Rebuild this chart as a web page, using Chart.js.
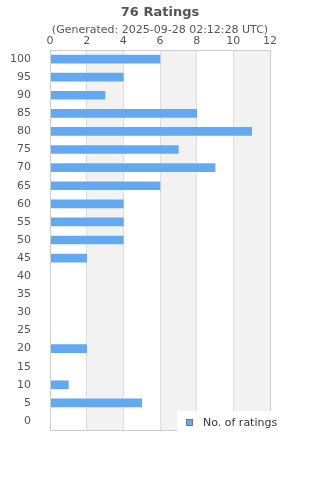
<!DOCTYPE html>
<html>
<head>
<meta charset="utf-8">
<script src="https://cdn.jsdelivr.net/npm/chart.js@4/dist/chart.umd.min.js"></script>
<style>
  html, body { margin: 0; padding: 0; background: #fff; }
  #wrap { width: 320px; height: 480px; }
</style>
</head>
<body>
<div id="wrap"><canvas id="myChart" width="320" height="480"></canvas></div>
<script>
const titleText = "76 Ratings";
const subtitleText = "(Generated: 2025-09-28 02:12:28 UTC)";
const seriesLabel = "No. of ratings";
const ratings = ["100", "95", "90", "85", "80", "75", "70", "65", "60", "55", "50",
  "45", "40", "35", "30", "25", "20", "15", "10", "5", "0"];
const counts = [6, 4, 3, 8, 11, 7, 9, 6, 4, 4, 4, 2, 0, 0, 0, 0, 2, 0, 1, 5, 0];
const xTicks = [0, 2, 4, 6, 8, 10, 12];

const barColor = "#63a9f2";
const fontFamily = "'DejaVu Sans', sans-serif";

// shaded bands between every other pair of ticks + titles + border + legend
const decor = {
  id: "decor",
  beforeDraw(chart) {
    const { ctx, chartArea, scales } = chart;
    ctx.save();
    ctx.fillStyle = "#f2f2f2";
    for (let i = 1; i < xTicks.length - 1; i += 2) {
      const x1 = scales.x.getPixelForValue(xTicks[i]);
      const x2 = scales.x.getPixelForValue(xTicks[i + 1]);
      ctx.fillRect(x1, chartArea.top, x2 - x1, chartArea.bottom - chartArea.top);
    }
    ctx.restore();
  },
  afterDraw(chart) {
    const { ctx, chartArea } = chart;
    ctx.save();
    ctx.strokeStyle = "#cccccc";
    ctx.lineWidth = 1;
    ctx.strokeRect(chartArea.left + 0.5, chartArea.top + 0.5,
      chartArea.right - chartArea.left, chartArea.bottom - chartArea.top);

    ctx.textAlign = "center";
    ctx.fillStyle = "#555";
    ctx.font = "bold 13px " + fontFamily;
    ctx.fillText(titleText, 160, 16);
    ctx.font = "11px " + fontFamily;
    ctx.fillText(subtitleText, 160, 33);

    // legend
    ctx.fillStyle = "#fff";
    ctx.fillRect(177, 411, 110, 20);
    ctx.fillStyle = barColor;
    ctx.fillRect(186.5, 419.5, 6, 6);
    ctx.strokeStyle = "#777";
    ctx.strokeRect(186.5, 419.5, 6, 6);
    ctx.fillStyle = "#333";
    ctx.textAlign = "left";
    ctx.font = "11px " + fontFamily;
    ctx.fillText(chart.data.datasets[0].label, 203, 426);
    ctx.restore();
  }
};

new Chart(document.getElementById("myChart").getContext("2d"), {
  type: "bar",
  data: {
    labels: ratings,
    datasets: [{
      label: seriesLabel,
      data: counts,
      backgroundColor: barColor,
      borderWidth: 0,
      barThickness: 8
    }]
  },
  options: {
    indexAxis: "y",
    responsive: false,
    animation: false,
    layout: { padding: { top: 34, right: 50, bottom: 50, left: 0 } },
    plugins: {
      legend: { display: false },
      title: { display: false },
      tooltip: { enabled: false }
    },
    scales: {
      x: {
        position: "top",
        min: 0,
        max: 12,
        afterBuildTicks: (scale) => { scale.ticks = xTicks.map((v) => ({ value: v })); },
        afterFit: (scale) => { scale.height = 16; },
        grid: { color: "#dddddd", drawTicks: false },
        border: { display: false },
        ticks: { color: "#555", font: { family: fontFamily, size: 11 }, padding: 2, maxRotation: 0 }
      },
      y: {
        afterFit: (scale) => { scale.width = 50; },
        grid: { display: false },
        border: { display: false },
        ticks: { color: "#555", font: { family: fontFamily, size: 11 }, padding: 11, autoSkip: false }
      }
    }
  },
  plugins: [decor]
});
</script>
</body>
</html>
